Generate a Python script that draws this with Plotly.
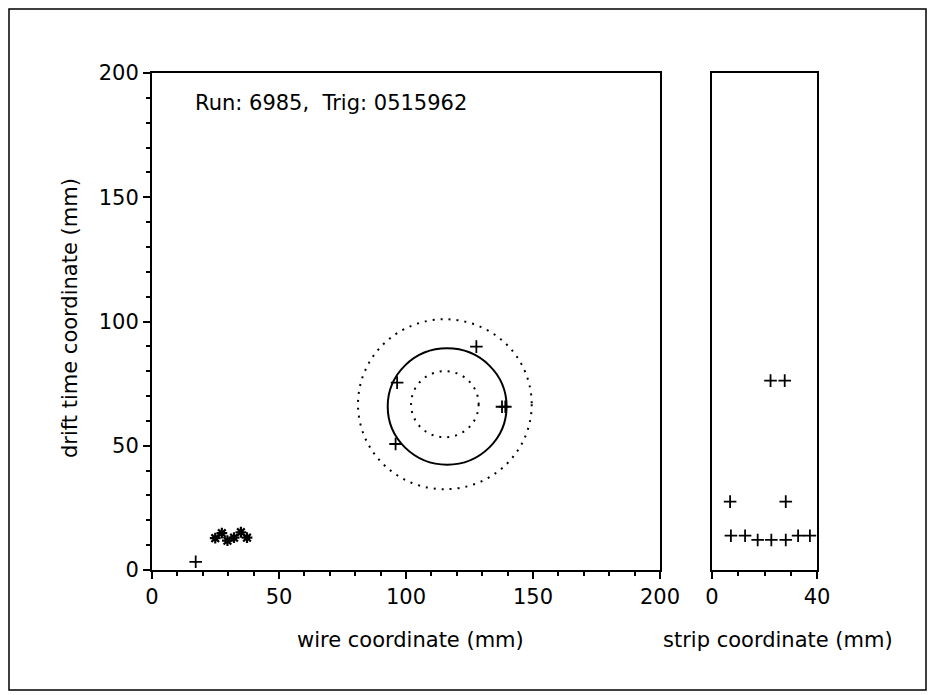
import plotly.graph_objects as go

# ---------------- data ----------------
# left panel: wire coordinate vs drift time coordinate (mm)
wire_plus_x = [17.2, 96.5, 95.9, 127.7, 137.8, 139.1]
wire_plus_y = [3.3, 75.4, 50.7, 89.9, 65.7, 65.7]
wire_star_x = [24.9, 27.5, 29.7, 32.3, 35.0, 37.4]
wire_star_y = [12.8, 14.8, 11.8, 13.0, 15.2, 13.0]

# fitted ring (solid) and search band (dotted)
fit_cx, fit_cy, fit_r = 116.2, 65.8, 23.4
band_cx, band_cy = 115.3, 66.7
band_radii = [13.3, 34.2]

# right panel: strip coordinate vs drift time coordinate (mm)
strip_x = [22.3, 27.7, 6.9, 28.1, 7.2, 12.6, 17.4, 22.6, 28.1, 32.8, 37.3]
strip_y = [76.2, 76.2, 27.5, 27.5, 13.8, 13.8, 12.1, 12.1, 12.1, 13.8, 13.8]

wire_ticks = [0, 50, 100, 150, 200]
drift_ticks = [0, 50, 100, 150, 200]
strip_ticks = [0, 40]
run_label = "Run: 6985,  Trig: 0515962"
# ----------------------------------------------------------------

W, H = 936, 695
OFF = 8  # page body margin offset
FONT = "DejaVu Sans, Liberation Sans, Arial, sans-serif"
FS = 21

def px(x):
    return (x - OFF) / W

def py(y):
    return 1 - (y - OFF) / H

fig = go.Figure()

plus_marker = dict(symbol="cross-thin", size=9, color="black",
                   line=dict(color="black", width=1.8))
star_marker = dict(symbol="asterisk", size=9, color="black",
                   line=dict(color="black", width=2.2))

fig.add_trace(go.Scatter(x=wire_plus_x, y=wire_plus_y, mode="markers",
                         marker=plus_marker, xaxis="x", yaxis="y"))
fig.add_trace(go.Scatter(x=wire_star_x, y=wire_star_y, mode="markers",
                         marker=star_marker, xaxis="x", yaxis="y"))
fig.add_trace(go.Scatter(x=strip_x, y=strip_y, mode="markers",
                         marker=plus_marker, xaxis="x2", yaxis="y2"))

shapes = []
shapes.append(dict(type="circle", xref="x", yref="y",
                   x0=fit_cx - fit_r, x1=fit_cx + fit_r,
                   y0=fit_cy - fit_r, y1=fit_cy + fit_r,
                   line=dict(color="black", width=2)))
for r in band_radii:
    shapes.append(dict(type="circle", xref="x", yref="y",
                       x0=band_cx - r, x1=band_cx + r,
                       y0=band_cy - r, y1=band_cy + r,
                       line=dict(color="black", width=2, dash="2px,6px")))
# outer page frame
shapes.append(dict(type="rect", xref="paper", yref="paper",
                   x0=px(9), x1=px(926), y0=py(690), y1=py(9),
                   line=dict(color="black", width=1.5)))

minor_ticks = dict(dtick=10, ticks="outside", ticklen=4, tickcolor="black", tickwidth=1.5)
axis_common = dict(showline=True, mirror=True, linecolor="black", linewidth=2,
                   showgrid=False, zeroline=False, ticks="outside",
                   tickcolor="black", tickwidth=1.5, ticklen=7, automargin=False,
                   tickfont=dict(family=FONT, size=FS, color="black"))

y_top, y_bot = 73, 570

fig.update_layout(
    template="none",
    width=W, height=H, autosize=False,
    margin=dict(l=0, r=0, t=0, b=0, pad=0),
    paper_bgcolor="white", plot_bgcolor="white",
    showlegend=False,
    font=dict(family=FONT, color="black"),
    xaxis=dict(domain=[px(152), px(660)], range=[0, 200], tickvals=wire_ticks,
               minor=minor_ticks, anchor="y", **axis_common),
    yaxis=dict(domain=[py(y_bot), py(y_top)], range=[0, 200], tickvals=drift_ticks,
               minor=minor_ticks, anchor="x", **axis_common),
    xaxis2=dict(domain=[px(712), px(817)], range=[0, 40], tickvals=strip_ticks,
                minor=minor_ticks, anchor="y2", **axis_common),
    yaxis2=dict(domain=[py(y_bot), py(y_top)], range=[0, 200], anchor="x2",
                showline=True, mirror=True, linecolor="black", linewidth=2,
                showgrid=False, zeroline=False, ticks="", showticklabels=False,
                automargin=False),
    shapes=shapes,
    annotations=[
        dict(text=run_label, xref="paper", yref="paper", x=px(193), y=py(103),
             xanchor="left", yanchor="middle", showarrow=False,
             font=dict(family=FONT, size=FS, color="black")),
        dict(text="wire coordinate (mm)", xref="paper", yref="paper",
             x=px(410), y=py(640), xanchor="center", yanchor="middle",
             showarrow=False, font=dict(family=FONT, size=FS, color="black")),
        dict(text="strip coordinate (mm)", xref="paper", yref="paper",
             x=px(778), y=py(640), xanchor="center", yanchor="middle",
             showarrow=False, font=dict(family=FONT, size=FS, color="black")),
        dict(text="drift time coordinate (mm)", xref="paper", yref="paper",
             x=px(70), y=py(318), xanchor="center", yanchor="middle",
             textangle=-90, showarrow=False,
             font=dict(family=FONT, size=FS, color="black")),
    ],
)

fig.write_html("out.html")
